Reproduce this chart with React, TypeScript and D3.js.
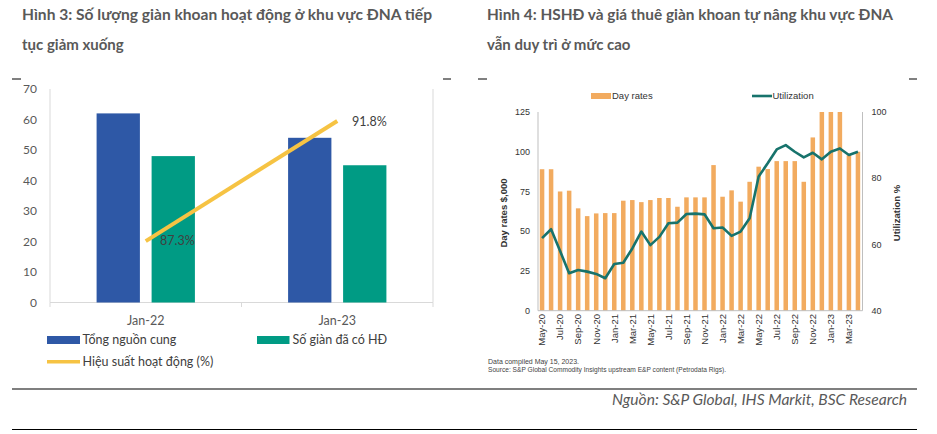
import React from "react";
import * as d3 from "d3";

// ---------- Left chart data (Hình 3) ----------
const leftCategories = ["Jan-22", "Jan-23"];
const supplyValues = [62, 54]; // Tổng nguồn cung
const contractedValues = [48, 45]; // Số giàn đã có HĐ
const utilizationLeft = [87.3, 91.8]; // Hiệu suất hoạt động (%)
const leftYTicks = [0, 10, 20, 30, 40, 50, 60, 70];

// ---------- Right chart data (Hình 4) ----------
const months = [
  "May-20", "Jun-20", "Jul-20", "Aug-20", "Sep-20", "Oct-20", "Nov-20", "Dec-20",
  "Jan-21", "Feb-21", "Mar-21", "Apr-21", "May-21", "Jun-21", "Jul-21", "Aug-21",
  "Sep-21", "Oct-21", "Nov-21", "Dec-21", "Jan-22", "Feb-22", "Mar-22", "Apr-22",
  "May-22", "Jun-22", "Jul-22", "Aug-22", "Sep-22", "Oct-22", "Nov-22", "Dec-22",
  "Jan-23", "Feb-23", "Mar-23", "Apr-23",
];
const dayRates = [
  89, 89, 75, 75.5, 64.4, 59.5, 61.2, 61.4, 61.4, 69.2, 69.6, 68.3, 69.6, 70.9, 70.9, 65.4,
  71.3, 71.3, 71.3, 91.6, 71.7, 75.7, 68.6, 81.1, 90.6, 89.1, 94.1, 94.1, 94.1, 81.1, 109, 125,
  125, 125, 97.8, 100,
];
const utilization = [
  61.9, 64.6, 58, 51.3, 52.3, 51.8, 51.1, 49.8, 54.1, 54.5, 58.8, 63.9, 59.8, 62.3, 66.4, 66.6,
  69.2, 69.3, 69.1, 64.9, 65.1, 62.6, 63.9, 67.9, 80.5, 84.5, 88.7, 90.0, 88.0, 86.3, 87.7, 85.7,
  88.0, 89.0, 87.0, 88.0,
];
const dayRateTicks = [0, 25, 50, 75, 100, 125];
const utilTicks = [40, 60, 80, 100];

const CAL = "Lato, 'Open Sans', 'Liberation Sans', sans-serif";
const ARIAL = "'Liberation Sans', Arial, sans-serif";
const NARROW = "'Liberation Sans Narrow', 'Arial Narrow', 'Liberation Sans', sans-serif";

function LeftChart() {
  const x = d3.scaleBand<string>().domain(leftCategories).range([50, 433]).paddingInner(0).paddingOuter(0);
  const inner = d3
    .scaleBand<string>()
    .domain(["supply", "contracted"])
    .range([0, x.bandwidth()])
    .paddingInner(0.2127)
    .paddingOuter(0.847);
  const y = d3.scaleLinear().domain([0, 70]).range([302.5, 89]);
  const y2 = d3.scaleLinear().domain([85, 93]).range([302.5, 89]);
  const line = d3
    .line<number>()
    .x((_, i) => (x(leftCategories[i]) as number) + x.bandwidth() / 2)
    .y((d) => y2(d));
  const textColor = "#595959";
  return (
    <g>
      {/* axis frame */}
      <line x1={50} x2={50} y1={89} y2={302.5} stroke="#D9D9D9" strokeWidth={1} />
      <line x1={433} x2={433} y1={89} y2={302.5} stroke="#D9D9D9" strokeWidth={1} />
      <line x1={50} x2={433} y1={302.5} y2={302.5} stroke="#D9D9D9" strokeWidth={1} />
      {[50, 241.5, 433].map((t, i) => (
        <line key={i} x1={t} x2={t} y1={302.5} y2={307} stroke="#D9D9D9" strokeWidth={1} />
      ))}
      {leftYTicks.map((t) => (
        <text key={t} x={37} y={y(t)} dy="0.35em" textAnchor="end" fontFamily={CAL} fontSize={12} fill={textColor}>
          {t}
        </text>
      ))}
      {leftCategories.map((c, i) => (
        <g key={c}>
          <rect
            x={(x(c) as number) + (inner("supply") as number)}
            y={y(supplyValues[i])}
            width={inner.bandwidth()}
            height={y(0) - y(supplyValues[i])}
            fill="#2E58A6"
          />
          <rect
            x={(x(c) as number) + (inner("contracted") as number)}
            y={y(contractedValues[i])}
            width={inner.bandwidth()}
            height={y(0) - y(contractedValues[i])}
            fill="#009B84"
          />
          <text
            x={(x(c) as number) + x.bandwidth() / 2}
            y={320.7}
            dy="0.35em"
            textAnchor="middle"
            fontFamily={CAL}
            fontSize={12.5}
            fill={textColor}
          >
            {c}
          </text>
        </g>
      ))}
      <path d={line(utilizationLeft) as string} fill="none" stroke="#F6C343" strokeWidth={4} />
      <text x={160} y={y2(utilizationLeft[0])} dy="0.35em" fontFamily={CAL} fontSize={12.5} fill="#404040">
        {utilizationLeft[0].toFixed(1)}%
      </text>
      <text x={352} y={y2(utilizationLeft[1]) + 1} dy="0.35em" fontFamily={CAL} fontSize={12.5} fill="#404040">
        {utilizationLeft[1].toFixed(1)}%
      </text>
      {/* legend */}
      <rect x={47} y={336} width={33} height={8} fill="#2E58A6" />
      <text x={82.5} y={340} dy="0.35em" fontFamily={CAL} fontSize={12.5} fill="#404040">
        Tổng nguồn cung
      </text>
      <rect x={257} y={336} width={32.5} height={8} fill="#009B84" />
      <text x={292.5} y={340} dy="0.35em" fontFamily={CAL} fontSize={12.5} fill="#404040">
        Số giàn đã có HĐ
      </text>
      <line x1={47} x2={80} y1={361.7} y2={361.7} stroke="#F6C343" strokeWidth={3.5} />
      <text x={82.5} y={361.7} dy="0.35em" fontFamily={CAL} fontSize={12.5} fill="#404040">
        Hiệu suất hoạt động (%)
      </text>
    </g>
  );
}

function RightChart() {
  const x = d3.scaleBand<string>().domain(months).range([538, 862]).paddingInner(0.5).paddingOuter(0.2);
  const y = d3.scaleLinear().domain([0, 125]).range([310.7, 112]);
  const y2 = d3.scaleLinear().domain([40, 100]).range([310.7, 112]);
  const cx = (i: number) => (x(months[i]) as number) + x.bandwidth() / 2;
  const line = d3
    .line<number>()
    .x((_, i) => cx(i))
    .y((d) => y2(d));
  const axisColor = "#BFBFBF";
  const tc = "#333333";
  return (
    <g>
      {dayRates.map((v, i) => (
        <rect
          key={months[i]}
          x={x(months[i]) as number}
          y={y(v)}
          width={x.bandwidth()}
          height={y(0) - y(v)}
          fill="#F2AB5F"
        />
      ))}
      <line x1={538} x2={538} y1={112} y2={310.7} stroke={axisColor} strokeWidth={1} />
      <line x1={862.5} x2={862.5} y1={112} y2={310.7} stroke={axisColor} strokeWidth={1} />
      <line x1={538} x2={862.5} y1={310.7} y2={310.7} stroke={axisColor} strokeWidth={1} />
      <path d={line(utilization) as string} fill="none" stroke="#17736C" strokeWidth={2.6} strokeLinejoin="round" />
      {dayRateTicks.map((t) => (
        <text key={t} x={530} y={y(t)} dy="0.35em" textAnchor="end" fontFamily={ARIAL} fontSize={9} fill={tc}>
          {t}
        </text>
      ))}
      {utilTicks.map((t) => (
        <text key={t} x={871.5} y={y2(t)} dy="0.35em" fontFamily={ARIAL} fontSize={9} fill={tc}>
          {t}
        </text>
      ))}
      {months.map((m, i) =>
        i % 2 === 0 ? (
          <text
            key={m}
            transform={`translate(${cx(i)},${314}) rotate(-90)`}
            dy="0.35em"
            textAnchor="end"
            fontFamily={NARROW}
            fontSize={9.5}
            fill={tc}
          >
            {m}
          </text>
        ) : null
      )}
      <text
        transform={`translate(504,213) rotate(-90)`}
        dy="0.35em"
        textAnchor="middle"
        fontFamily={ARIAL}
        fontWeight="bold"
        fontSize={9.5}
        fill={tc}
      >
        Day rates $,000
      </text>
      <text
        transform={`translate(897,213) rotate(-90)`}
        dy="0.35em"
        textAnchor="middle"
        fontFamily={ARIAL}
        fontWeight="bold"
        fontSize={9.5}
        fill={tc}
      >
        Utilization %
      </text>
      {/* legend */}
      <rect x={591} y={93} width={20} height={6} fill="#F2AB5F" />
      <text x={612} y={96} dy="0.35em" fontFamily={ARIAL} fontSize={9.5} fill={tc}>
        Day rates
      </text>
      <line x1={752} x2={772} y1={96} y2={96} stroke="#17736C" strokeWidth={2.6} />
      <text x={772.5} y={96} dy="0.35em" fontFamily={ARIAL} fontSize={9.5} fill={tc}>
        Utilization
      </text>
      <text x={488} y={364} fontFamily={ARIAL} fontSize={6.5} fill="#444" textLength={91} lengthAdjust="spacingAndGlyphs">
        Data compiled May 15, 2023.
      </text>
      <text x={488} y={372} fontFamily={ARIAL} fontSize={6.5} fill="#444" textLength={238} lengthAdjust="spacingAndGlyphs">
        Source: S&amp;P Global Commodity Insights upstream E&amp;P content (Petrodata Rigs).
      </text>
    </g>
  );
}

export default function App() {
  const titleColor = "#595959";
  return (
    <svg
      width={937}
      height={434}
      style={{ position: "absolute", left: 0, top: 0, background: "#fff" }}
    >
      <rect width={937} height={434} fill="#fff" />
      {/* titles */}
      <g fontFamily={CAL} fontWeight="bold" fontSize={15} fill={titleColor}>
        <text x={22} y={20} textLength={410} lengthAdjust="spacingAndGlyphs">
          Hình 3: Số lượng giàn khoan hoạt động ở khu vực ĐNA tiếp
        </text>
        <text x={22} y={50}>tục giảm xuống</text>
        <text x={487} y={20} textLength={406} lengthAdjust="spacingAndGlyphs">
          Hình 4: HSHĐ và giá thuê giàn khoan tự nâng khu vực ĐNA
        </text>
        <text x={487} y={50}>vẫn duy trì ở mức cao</text>
      </g>
      {/* corner markers */}
      {[
        [12, 21],
        [443, 451],
        [478, 487],
        [909, 917],
      ].map(([a, b], i) => (
        <line key={i} x1={a} x2={b} y1={79} y2={79} stroke="#000" strokeWidth={1} />
      ))}
      <LeftChart />
      <RightChart />
      {/* separator lines */}
      <line x1={12} x2={917} y1={389} y2={389} stroke="#000" strokeWidth={1.2} />
      <line x1={12} x2={917} y1={429.5} y2={429.5} stroke="#000" strokeWidth={1.2} />
      <text
        x={907}
        y={405}
        textAnchor="end"
        fontFamily={CAL}
        fontStyle="italic"
        fontSize={15.5}
        fill="#595959"
        textLength={295}
        lengthAdjust="spacingAndGlyphs"
      >
        Nguồn: S&amp;P Global, IHS Markit, BSC Research
      </text>
    </svg>
  );
}
